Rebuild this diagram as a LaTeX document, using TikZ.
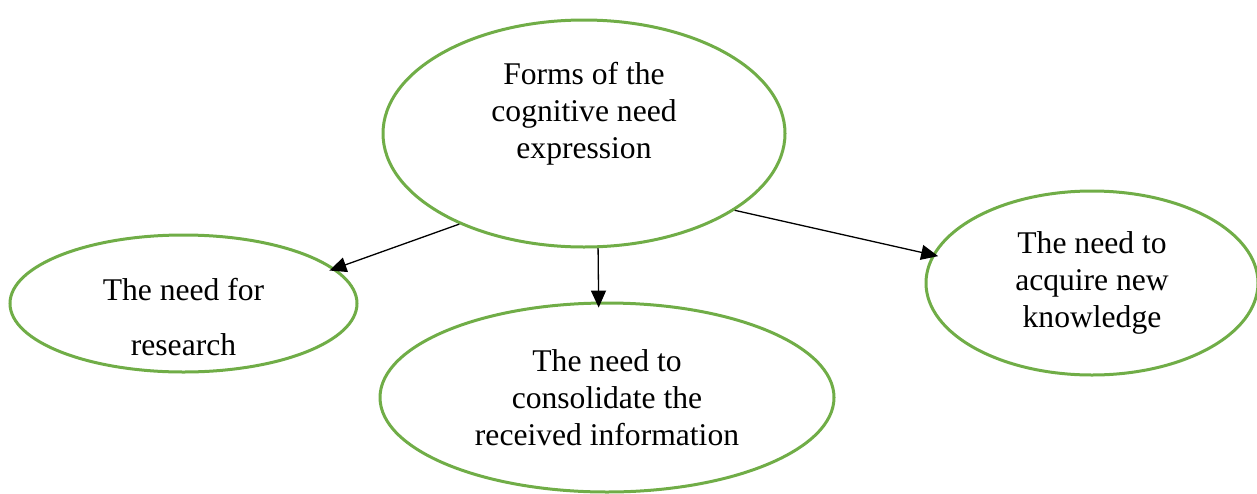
\documentclass[tikz,border=0pt]{standalone}
\usepackage{fontspec}
\setmainfont{Liberation Serif}
\usepackage{tikz}
\usetikzlibrary{
        shapes,
        arrows.meta
    }
\definecolor{ovalgreen}{HTML}{70AD47}

\begin{document}
\begin{tikzpicture}
[x=1pt, y=-1pt,
baseshape/.style={ellipse, draw=ovalgreen, line width=3pt, inner sep=0pt, align=center, font=\fontsize{31.6}{37}\selectfont},
txt/.style={align=center, font=\fontsize{31.6}{37}\selectfont},
arrow/.style={line width=1.3pt, -{Triangle[length=17pt, width=15pt]}, shorten >=-6pt},]
\useasboundingbox (0,0) rectangle (1257,493);

\node (forms) [baseshape, minimum width=402pt, minimum height=227pt,
  label={[txt, yshift=20pt]center:{Forms of the\\cognitive need\\expression}}] at (584,133.5) {};
\node (research) [baseshape, minimum width=347pt, minimum height=137pt,
  label={[txt, yshift=-14pt]center:{The need for\\[18pt]research}}] at (183.5,303.5) {};
\node (consolidate) [baseshape, minimum width=454pt, minimum height=189pt] at (607,397.5)
  {The need to\\consolidate the\\received information};
\node (acquire) [baseshape, minimum width=332pt, minimum height=184pt] at (1092,283)
  {The need to\\acquire new\\knowledge};

\draw[arrow] (forms.216) -- (research.13);
\draw[arrow] (forms.277) -- (consolidate.95);
\draw[arrow] (forms.333) -- (acquire.170);

\end{tikzpicture}
\end{document}
